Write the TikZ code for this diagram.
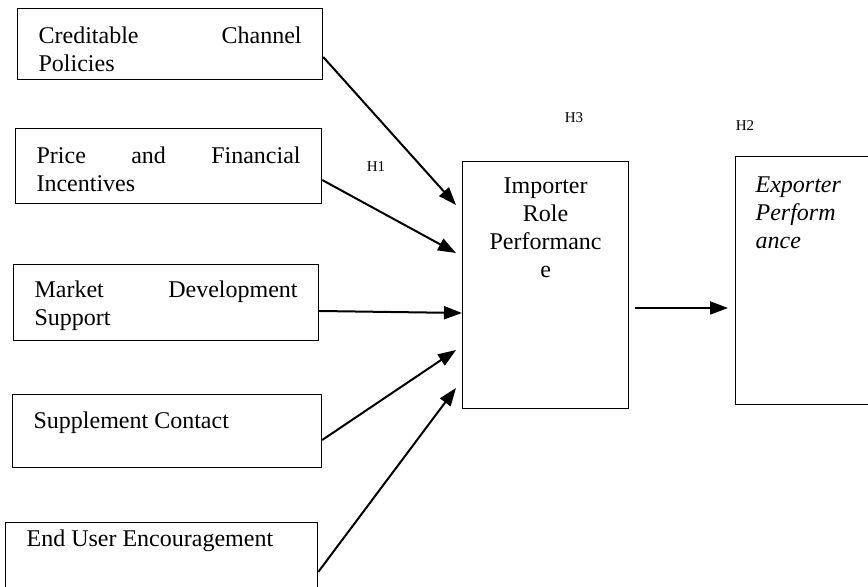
\documentclass[tikz,border=0pt]{standalone}
\usepackage{fontspec}
\setmainfont{Liberation Serif}
\usetikzlibrary{arrows.meta,calc}

\tikzset{
    varbox/.style={draw, line width=0.6pt, anchor=north west, inner xsep=10.5pt, inner ysep=0pt, align=justify},
    hyp/.style={anchor=base, inner sep=0pt, font=\fontsize{7.5}{9}\selectfont},
    link/.style={line width=1pt, -{Triangle[length=9pt,width=6.5pt]}}
}

\begin{document}
\begin{tikzpicture}[x=0.5pt, y=-0.5pt, font=\fontsize{12}{13.8}\selectfont]
    \useasboundingbox (0,0) rectangle (868,587);

    % independent variables
    \node (cred) [varbox, text width=131.5pt, text height=17.5pt, text depth=18pt] at (17,8) {Creditable Channel\linebreak Policies};
    \node (price) [varbox, text width=132pt, text height=17.5pt, text depth=20pt] at (15,128) {Price and Financial\linebreak Incentives};
    \node (market) [varbox, text width=131.5pt, text height=16.5pt, text depth=21.5pt] at (13,264) {Market Development\linebreak Support};
    \node (supp) [varbox, text width=133.5pt, text height=17pt, text depth=19.5pt] at (12,394) {Supplement Contact};
    \node (user) [varbox, text width=135pt, text height=12pt, text depth=45pt] at (5,522) {End User Encouragement};

    % mediator and outcome
    \node (imp) [varbox, align=center, inner xsep=10.5pt, text width=62pt, text height=16pt, text depth=107.5pt, font=\fontsize{12}{14}\selectfont] at (462,161) {Importer\\Role\\Performanc\\e};
    \node (exp) [varbox, align=left, inner xsep=10pt, text width=62.5pt, text height=18pt, text depth=106pt, font=\fontsize{12}{14}\itshape] at (735,156) {Exporter\\Perform\\ance};

    % hypothesis labels
    \node (h1) [hyp] at (376,172) {H1};
    \node (h3) [hyp] at (574,123) {H3};
    \node (h2) [hyp] at (745,131) {H2};

    \draw [link] ($(cred.north east)+(0,49)$) -- ($(imp.north west)+(-6,44)$);
    \draw [link] ($(price.north east)+(0,52)$) -- ($(imp.north west)+(-6,92)$);
    \draw [link] ($(market.north east)+(0,47)$) -- ($(imp.north west)+(0,152)$);
    \draw [link] ($(supp.north east)+(0,46)$) -- ($(imp.north west)+(-6,189)$);
    \draw [link] ($(user.north east)+(0,50)$) -- ($(imp.north west)+(-6,227)$);
    \draw [link] ($(imp.north east)+(6,147)$) -- ($(exp.north west)+(-7,152)$);

\end{tikzpicture}
\end{document}
